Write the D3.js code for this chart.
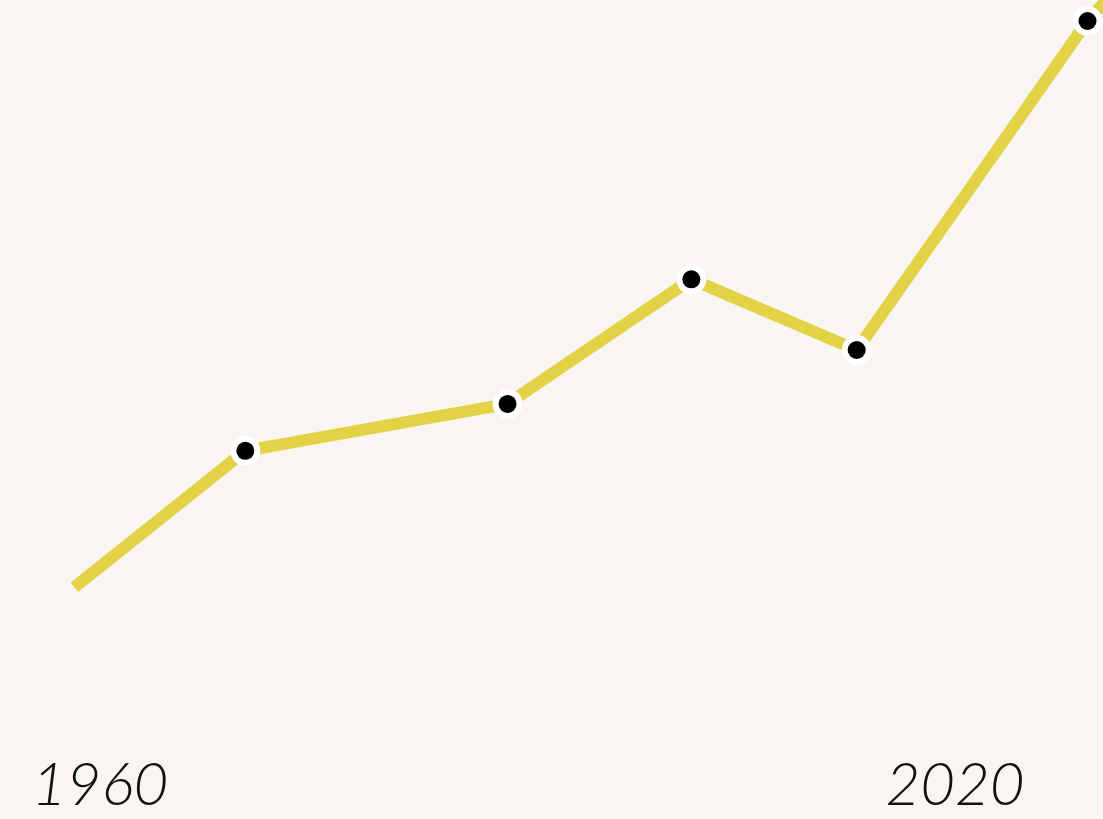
<!DOCTYPE html>
<html>
<head>
<meta charset="utf-8">
<script src="https://cdn.jsdelivr.net/npm/d3@7"></script>
<style>
  html, body { margin: 0; padding: 0; background: #f8f5f2; overflow: hidden; }
  .label { font-family: "Lato", "Open Sans", sans-serif; font-style: italic; font-weight: 300; fill: #111; }
</style>
</head>
<body>
<div id="container"></div>
<script>
// data
var years = [1958.2, 1970.2, 1988.6, 2001.5, 2013.1, 2029.3, 2031.6];
var values = [16.1, 35.6, 42.3, 60.1, 50.0, 97.0, 102.1];
var tickYears = [1960, 2020];

var width = 1103, height = 819;

var svg = d3.select("#container")
  .append("svg")
  .attr("width", width)
  .attr("height", height);

svg.append("rect").attr("width", width).attr("height", height).attr("fill", "#f8f5f2");

var x = d3.scaleLinear().domain([1960, 2020]).range([100, 955]);
var y = d3.scaleLinear().domain([0, 100]).range([700, 0]);

var data = years.map(function(d, i) { return { year: d, value: values[i] }; });

var line = d3.line()
  .x(function(d) { return x(d.year); })
  .y(function(d) { return y(d.value); });

svg.append("path")
  .datum(data)
  .attr("d", line)
  .attr("fill", "none")
  .attr("stroke", "#e3d245")
  .attr("stroke-width", 12)
  .attr("stroke-linecap", "butt")
  .attr("stroke-linejoin", "round");

// dots, skip the first point
var dots = svg.selectAll(".dot")
  .data(data.slice(1))
  .enter()
  .append("g")
  .attr("class", "dot")
  .attr("transform", function(d) { return "translate(" + x(d.year) + "," + y(d.value) + ")"; });

dots.append("circle").attr("r", 15).attr("fill", "#ffffff");
dots.append("circle").attr("r", 9).attr("fill", "#000000");

// year labels
svg.selectAll(".label")
  .data(tickYears)
  .enter()
  .append("text")
  .attr("class", "label")
  .attr("x", function(d) { return x(d); })
  .attr("y", 805)
  .attr("text-anchor", "middle")
  .attr("font-size", 60)
  .text(function(d) { return d; });
</script>
</body>
</html>
